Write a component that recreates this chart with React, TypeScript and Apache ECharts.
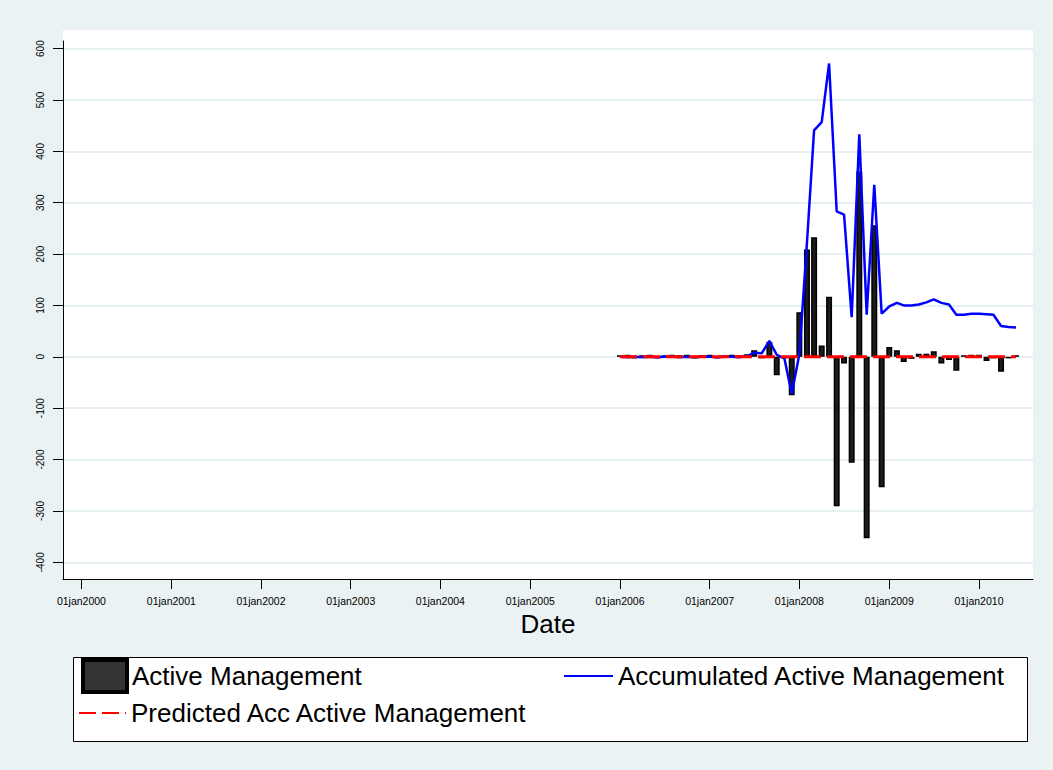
import React, { useEffect, useRef } from 'react';
import * as echarts from 'echarts';

// Monthly observations, Jan 2006 .. Jun 2010
const startYear = 2006;
const activeMgmt = [
  3, 4, -3, 3, 4, -3, 3, 4, 3, 4, -3, 3,
  4, -3, 3, 4, 3, 5, 13, -3, 29, -36, -3, -75,
  87, 209, 233, 22, 117, -291, -13, -206, 361, -353, 256, -254,
  19, 13, -10, -4, 6, 6, 11, -13, -6, -27, 3, 4,
  4, -8, -3, -29, -3, 3,
];
const accumulated = [
  0, -1, 0, -1, 0, -1, 0, 0, -1, 0, -1, 0,
  0, -1, 0, 0, -1, 1, 8, 7, 31, 4, -3, -72,
  5, 222, 441, 457, 571, 283, 277, 77, 433, 82, 335, 84,
  98, 105, 100, 100, 102, 106, 112, 105, 102, 82, 82, 84,
  84, 83, 82, 60, 58, 57,
];
const predicted = [
  0, 0, 0, 0, 0, 0, 0, 0, 0, 0, 0, 0,
  0, 0, 0, 0, 0, 0, 0, 0, 0, 0, 0, 0,
  0, 0, 0, 0, 0, 0, 0, 0, 0, 0, 0, 0,
  0, 0, 0, 0, 0, 0, 0, 0, 0, 0, 0, 0,
  0, 0, 0, 0, 0, 0,
];
const yTicks = [-400, -300, -200, -100, 0, 100, 200, 300, 400, 500, 600];
const xTickYears = [2000, 2001, 2002, 2003, 2004, 2005, 2006, 2007, 2008, 2009, 2010];
const seriesNames = [
  'Active Management',
  'Accumulated Active Management',
  'Predicted Acc Active Management',
];

const months = activeMgmt.map((_, i) =>
  Date.UTC(startYear + Math.floor(i / 12), i % 12, 1)
);

const FONT = "'Liberation Sans', Arial, Helvetica, sans-serif";

export default function App() {
  const ref = useRef<HTMLDivElement>(null);
  useEffect(() => {
    document.body.style.margin = '0';
    const chart = echarts.init(ref.current!, null, { renderer: 'svg' });
    const xTicks = xTickYears.map((y) => Date.UTC(y, 0, 1));
    const option: any = {
      animation: false,
      backgroundColor: '#eaf2f3',
      textStyle: { fontFamily: FONT },
      grid: {
        left: 63,
        right: 20,
        top: 41,
        bottom: 191,
        show: true,
        backgroundColor: '#ffffff',
        borderWidth: 0,
      },
      graphic: [
        {
          type: 'rect',
          z: 0,
          shape: { x: 63, y: 30, width: 970, height: 12 },
          style: { fill: '#ffffff' },
          silent: true,
        },
        {
          type: 'rect',
          z: 0,
          shape: { x: 73.5, y: 657.5, width: 954, height: 84 },
          style: { fill: '#ffffff', stroke: '#000000', lineWidth: 1 },
          silent: true,
        },
      ],
      xAxis: {
        type: 'value',
        min: Date.UTC(1999, 9, 18),
        max: Date.UTC(2010, 7, 9),
        name: 'Date',
        nameLocation: 'middle',
        nameGap: 23,
        nameTextStyle: { fontSize: 26, color: '#000', fontFamily: FONT },
        axisLine: { show: true, onZero: false, lineStyle: { color: '#000', width: 1 } },
        axisTick: {
          show: true,
          length: 10,
          customValues: xTicks,
          lineStyle: { color: '#000', width: 1 },
        },
        axisLabel: {
          customValues: xTicks,
          margin: 16,
          fontSize: 10.5,
          color: '#000',
          fontFamily: FONT,
          formatter: (v: number) => '01jan' + new Date(v).getUTCFullYear(),
        },
        splitLine: { show: false },
      },
      yAxis: {
        type: 'value',
        min: -432.5,
        max: 614.8,
        axisLine: { show: true, lineStyle: { color: '#000', width: 1 } },
        axisTick: {
          show: true,
          length: 10,
          customValues: yTicks,
          lineStyle: { color: '#000', width: 1 },
        },
        axisLabel: {
          customValues: yTicks,
          rotate: 90,
          margin: 18,
          fontSize: 10,
          color: '#000',
          fontFamily: FONT,
        },
        splitLine: { show: true, lineStyle: { color: '#e6eff1', width: 2 } },
      },
      legend: [
        {
          left: 81,
          top: 658,
          padding: 0,
          itemWidth: 44,
          itemHeight: 32,
          itemGap: 5,
          selectedMode: false,
          textStyle: { fontSize: 26, color: '#000', fontFamily: FONT },
          data: [
            {
              name: seriesNames[0],
              icon: 'rect',
              itemStyle: { color: '#333333', borderColor: '#000000', borderWidth: 4 },
            },
          ],
        },
        {
          left: 563,
          top: 663,
          padding: 0,
          itemWidth: 49,
          itemHeight: 32,
          selectedMode: false,
          itemStyle: { opacity: 0 },
          textStyle: { fontSize: 26, color: '#000', fontFamily: FONT },
          data: [seriesNames[1]],
        },
        {
          left: 78,
          top: 700,
          padding: 0,
          itemWidth: 47,
          itemHeight: 32,
          selectedMode: false,
          itemStyle: { opacity: 0 },
          textStyle: { fontSize: 26, color: '#000', fontFamily: FONT },
          data: [seriesNames[2]],
        },
      ],
      series: [
        {
          type: 'bar',
          name: seriesNames[0],
          data: months.map((m, i) => [m, activeMgmt[i]]),
          barWidth: 6,
          itemStyle: { color: '#1c1c1c', borderColor: '#000', borderWidth: 1.5 },
          z: 2,
        },
        {
          type: 'line',
          name: seriesNames[1],
          data: months.map((m, i) => [m, accumulated[i]]),
          symbol: 'none',
          lineStyle: { color: '#0000ff', width: 2.5 },
          itemStyle: { color: '#0000ff' },
          z: 3,
        },
        {
          type: 'line',
          name: seriesNames[2],
          data: months.map((m, i) => [m, predicted[i]]),
          symbol: 'none',
          lineStyle: { color: '#ff0000', width: 3, type: [17, 6] },
          itemStyle: { color: '#ff0000' },
          z: 4,
        },
      ],
    };
    chart.setOption(option);
    return () => chart.dispose();
  }, []);
  return <div ref={ref} style={{ width: 1053, height: 770 }} />;
}
